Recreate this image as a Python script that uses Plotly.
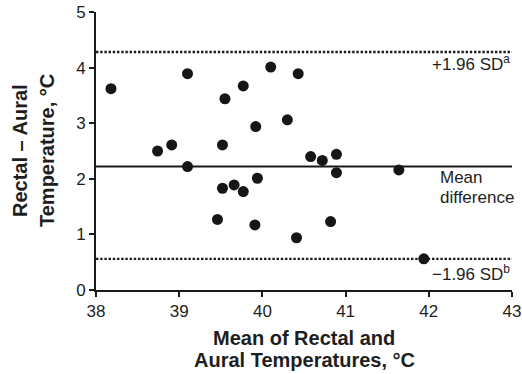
import plotly.graph_objects as go

# Data (Bland-Altman plot)
mean_temp = [38.18, 38.74, 38.91, 39.10, 39.10, 39.46, 39.52, 39.52, 39.55, 39.66,
             39.77, 39.77, 39.91, 39.92, 39.94, 40.10, 40.30, 40.41, 40.43, 40.58,
             40.72, 40.82, 40.89, 40.89, 41.64, 41.94]
diff_temp = [3.62, 2.50, 2.61, 3.89, 2.22, 1.27, 2.61, 1.83, 3.44, 1.89,
             3.67, 1.77, 1.17, 2.94, 2.01, 4.01, 3.06, 0.94, 3.89, 2.40,
             2.33, 1.23, 2.44, 2.11, 2.16, 0.56]
mean_diff = 2.22
upper_loa = 4.28
lower_loa = 0.56
x_range = [38, 43]
y_range = [0, 5]
x_ticks = [38, 39, 40, 41, 42, 43]
y_ticks = [0, 1, 2, 3, 4, 5]
x_title_lines = ["Mean of Rectal and", "Aural Temperatures, °C"]
y_title_lines = ["Rectal \u2013 Aural", "Temperature, °C"]

FONT = "Arial, Liberation Sans, Helvetica, sans-serif"
TXT = "#1e1e1e"

fig = go.Figure()

fig.add_trace(go.Scatter(
    x=mean_temp, y=diff_temp, mode="markers",
    marker=dict(size=11, color="#161616", line=dict(width=0)),
    showlegend=False, hoverinfo="x+y",
))

for yv, dash, w in [(upper_loa, "2.4px,1.8px", 2.4), (mean_diff, "solid", 2),
                    (lower_loa, "2.4px,1.8px", 2.4)]:
    fig.add_shape(type="line", xref="x", yref="y", x0=x_range[0], x1=x_range[1],
                  y0=yv, y1=yv, line=dict(color="#1a1a1a", width=w, dash=dash),
                  layer="below")

lab_font = dict(family=FONT, size=17, color=TXT)
fig.add_annotation(x=x_range[1], y=upper_loa, xref="x", yref="y",
                   text="+1.96 SD<sup>a</sup>", showarrow=False,
                   xanchor="right", yanchor="middle", yshift=-11, font=lab_font)
fig.add_annotation(x=42.11, y=mean_diff, xref="x", yref="y",
                   text="Mean", showarrow=False,
                   xanchor="left", yanchor="middle", yshift=-11, font=lab_font)
fig.add_annotation(x=42.11, y=mean_diff, xref="x", yref="y",
                   text="difference", showarrow=False,
                   xanchor="left", yanchor="middle", yshift=-31, font=lab_font)
fig.add_annotation(x=x_range[1], y=lower_loa, xref="x", yref="y",
                   text="\u22121.96 SD<sup>b</sup>", showarrow=False,
                   xanchor="right", yanchor="middle", yshift=-14, font=lab_font)

title_font = dict(family=FONT, size=20, color=TXT)
for i, line in enumerate(x_title_lines):
    fig.add_annotation(x=0.5, y=0, xref="paper", yref="paper",
                       text="<b>%s</b>" % line, showarrow=False,
                       xanchor="center", yanchor="middle", yshift=-48 - 22 * i,
                       font=title_font)
for i, line in enumerate(y_title_lines):
    fig.add_annotation(x=0, y=0.5, xref="paper", yref="paper",
                       text="<b>%s</b>" % line, showarrow=False, textangle=-90,
                       xanchor="center", yanchor="middle", xshift=-76 + 27 * i,
                       font=title_font)

axis_common = dict(
    showgrid=False, zeroline=False, automargin=False,
    showline=True, linecolor="#1a1a1a", linewidth=2,
    ticks="outside", ticklen=5, tickwidth=2, tickcolor="#1a1a1a",
    tickfont=dict(family=FONT, size=17, color=TXT),
)

fig.update_layout(
    width=522, height=374,
    margin=dict(l=96, r=10, t=12, b=84),
    paper_bgcolor="white", plot_bgcolor="white",
    font=dict(family=FONT, size=17, color=TXT),
    xaxis=dict(range=x_range, tickvals=x_ticks, **axis_common),
    yaxis=dict(range=y_range, tickvals=y_ticks, **axis_common),
)

fig.write_html("out.html")
